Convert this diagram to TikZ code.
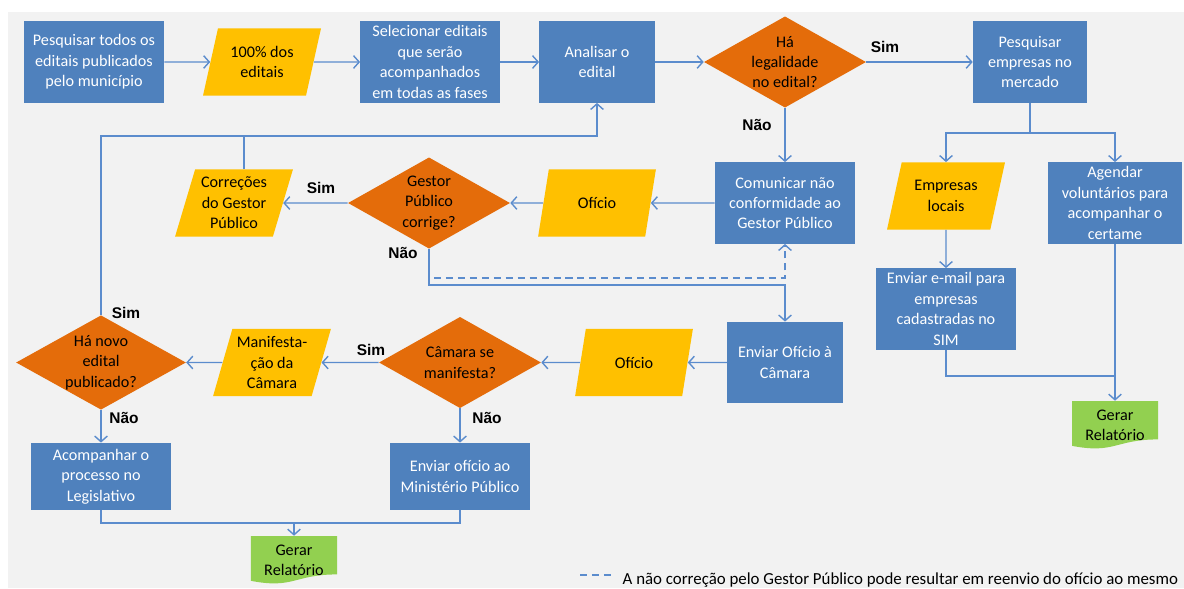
\documentclass[tikz,border=0pt]{standalone}
\usepackage{fontspec}
\setmainfont{Carlito}
\newfontfamily\lblfont{Liberation Sans}
\usetikzlibrary{shapes.geometric,arrows.meta,calc}

\definecolor{boxblue}{RGB}{79,129,189}
\definecolor{paryellow}{RGB}{255,192,0}
\definecolor{decorange}{RGB}{228,108,10}
\definecolor{docgreen}{RGB}{146,208,80}
\definecolor{linkblue}{RGB}{91,140,205}
\definecolor{bggray}{RGB}{242,242,242}

\tikzset{
  base/.style={font=\fontsize{11.5}{14.5}\selectfont, align=center, inner sep=1pt},
  process/.style={base, rectangle, fill=boxblue, text=white, minimum height=2.03cm},
  datapar/.style={base, trapezium, trapezium left angle=72, trapezium right angle=108,
    trapezium stretches=true, fill=paryellow, minimum width=2.95cm, minimum height=1.68cm},
  decision/.style={base, diamond, fill=decorange, shape aspect=1.8, inner sep=0pt,
    minimum width=4.05cm, minimum height=2.28cm},
  report/.style={base, rectangle, minimum width=2.15cm, minimum height=1.2cm,
    path picture={
      \fill[docgreen] let \p1=(path picture bounding box.south west),
        \p2=(path picture bounding box.north east) in
        (\x1,\y2) -- (\x2,\y2) -- (\x2,{\y2-0.8*(\y2-\y1)})
        .. controls ({0.5*(\x1+\x2)},{\y2-0.8*(\y2-\y1)}) and ({0.5*(\x1+\x2)},{\y2-1.107*(\y2-\y1)})
        .. (\x1,{\y2-0.934*(\y2-\y1)}) -- cycle;
    }},
  link/.style={draw=linkblue, line width=1pt},
  flow/.style={link, -{Straight Barb[length=4pt,width=9pt]}},
  answer/.style={font=\lblfont\bfseries\fontsize{11}{13}\selectfont},
}

\begin{document}
\begin{tikzpicture}[x=0.025cm, y=-0.025cm]
  \useasboundingbox (0,0) rectangle (1184,588);
  \fill[bggray] (8,12) rectangle (1184,588);

  % first row
  \node[process, minimum width=3.5cm] (pesq) at (94,62) {Pesquisar todos os\\editais publicados\\pelo município};
  \node[datapar] (todos) at (262,62) {100\% dos\\editais};
  \node[process, minimum width=3.48cm] (selec) at (430,62) {Selecionar editais\\que serão\\acompanhados\\em todas as fases};
  \node[process, minimum width=2.88cm] (anal) at (597,62) {Analisar o\\edital};
  \node[decision] (legal) at (785,62) {Há\\legalidade\\no edital?};
  \node[process, minimum width=2.85cm] (merc) at (1030,62) {Pesquisar\\empresas no\\mercado};

  % second row
  \node[process, minimum width=3.5cm] (comun) at (785,203) {Comunicar não\\conformidade ao\\Gestor Público};
  \node[datapar] (ofgest) at (597,203) {Ofício};
  \node[decision] (corrige) at (429,203) {Gestor\\Público\\corrige?};
  \node[datapar] (correc) at (234,203) {Correções\\do Gestor\\Público};
  \node[datapar] (locais) at (946,196) {Empresas\\locais};
  \node[process, minimum width=3.35cm] (volunt) at (1115,203) {Agendar\\voluntários para\\acompanhar o\\certame};
  \node[process, minimum width=3.48cm] (email) at (946,309) {Enviar e-mail para\\empresas\\cadastradas no\\SIM};

  % third row
  \node[process, minimum width=2.88cm] (envcam) at (785,362.5) {Enviar Ofício à\\Câmara};
  \node[datapar] (ofcam) at (634,362.5) {Ofício};
  \node[decision] (camara) at (460,362.5) {Câmara se\\manifesta?};
  \node[datapar] (manif) at (272,362.5) {Manifesta-\\ção da\\Câmara};
  \node[decision] (novo) at (101,362.5) {Há novo\\edital\\publicado?};
  \node[report] (rel2) at (1115,425) {Gerar\\Relatório};

  % fourth row
  \node[process, minimum width=3.5cm, minimum height=1.68cm] (acomp) at (101,476.5) {Acompanhar o\\processo no\\Legislativo};
  \node[process, minimum width=3.5cm, minimum height=1.68cm] (minist) at (460,476.5) {Enviar ofício ao\\Ministério Público};
  \node[report] (rel1) at (294,560) {Gerar\\Relatório};

  % answers
  \node[answer] (simlegal) at (885,47) {Sim};
  \node[answer] (naolegal) at (757,125) {Não};
  \node[answer] (simcorr) at (321,188) {Sim};
  \node[answer] (naocorr) at (403,253) {Não};
  \node[answer] (simnovo) at (126,313) {Sim};
  \node[answer] (simcam) at (371,350) {Sim};
  \node[answer] (naonovo) at (124,418) {Não};
  \node[answer] (naocam) at (487,418) {Não};

  % connectors
  \draw[flow] (pesq) -- (todos);
  \draw[flow] (todos) -- (selec);
  \draw[flow] (selec) -- (anal);
  \draw[flow] (anal) -- (legal);
  \draw[flow] (legal) -- (merc);
  \draw[flow] (legal) -- (comun);
  \draw[flow] (comun) -- (ofgest);
  \draw[flow] (ofgest) -- (corrige);
  \draw[flow] (corrige) -- (correc);
  \coordinate (loop) at (597,136);
  \draw[flow] (novo.north) |- (loop) -- (anal.south);
  \draw[link] (correc.top side) -- (correc.top side |- loop);
  \coordinate (naojoin) at (429,285);
  \draw[flow] (corrige.south) -- (naojoin) -| (envcam.north);
  \coordinate (dashstart) at (434,278);
  \draw[flow, dash pattern=on 5pt off 3.5pt] (dashstart) -| (comun.south);
  \draw[flow] (envcam) -- (ofcam);
  \draw[flow] (ofcam) -- (camara);
  \draw[flow] (camara) -- (manif);
  \draw[flow] (manif) -- (novo);
  \draw[flow] (novo) -- (acomp);
  \draw[flow] (camara) -- (minist);
  \coordinate (merge1) at (294,523);
  \draw[link] (acomp.south) |- (merge1) -| (minist.south);
  \draw[flow] (merge1) -- (rel1);
  \coordinate (split) at (1030,133);
  \draw[link] (merc.south) -- (split);
  \draw[flow] (split) -| (locais.north);
  \draw[flow] (split) -| (volunt.north);
  \draw[flow] (locais) -- (email);
  \draw[flow] (volunt.south) -- (rel2.north);
  \coordinate (merge2) at (1115,376);
  \draw[link] (email.south) |- (merge2);

  % legend
  \coordinate (legA) at (580,575);
  \coordinate (legB) at (612,575);
  \draw[link, dash pattern=on 5pt off 3.5pt] (legA) -- (legB);
  \node[base, font=\fontsize{12}{14}\selectfont, anchor=base west] (legenda) at (621,584) {A não correção pelo Gestor Público pode resultar em reenvio do ofício ao mesmo};
\end{tikzpicture}
\end{document}
